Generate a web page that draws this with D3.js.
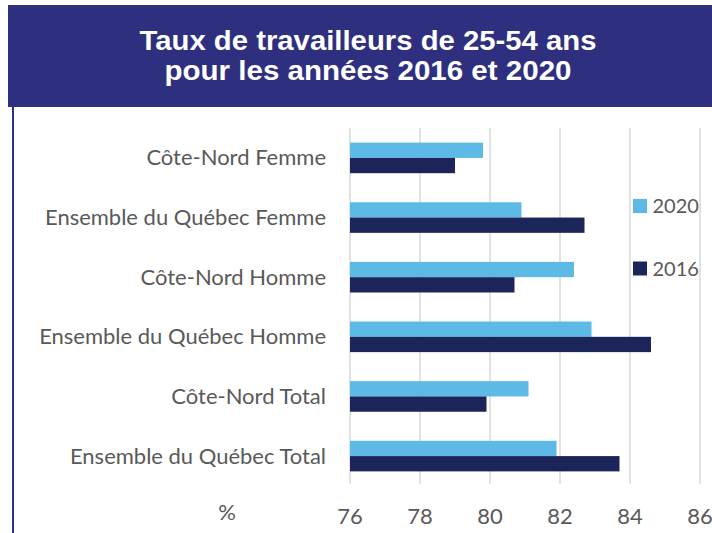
<!DOCTYPE html>
<html><head><meta charset="utf-8">
<script src="https://cdn.jsdelivr.net/npm/d3@7"></script>
<style>
html,body{margin:0;padding:0;background:#fff;}
svg{display:block;}
</style></head>
<body>
<svg id="chart" width="712" height="533"></svg>
<script>
const titleLines = ["Taux de travailleurs de 25-54 ans", "pour les années 2016 et 2020"];
const categories = ["Côte-Nord Femme", "Ensemble du Québec Femme", "Côte-Nord Homme", "Ensemble du Québec Homme", "Côte-Nord Total", "Ensemble du Québec Total"];
const seriesNames = ["2020", "2016"];
const values2020 = [79.8, 80.9, 82.4, 82.9, 81.1, 81.9];
const values2016 = [79.0, 82.7, 80.7, 84.6, 79.9, 83.7];
const xTicks = [76, 78, 80, 82, 84, 86];
const axisUnit = "%";

const colors = {"2020": "#5dbae6", "2016": "#1c2559"};
const band = "#2e2f7f";
const textGray = "#595959";
const labelFont = "Lato, 'Open Sans', sans-serif";

const svg = d3.select("#chart");

// title band
svg.append("rect").attr("x", 8).attr("y", 5).attr("width", 712 - 8).attr("height", 102).attr("fill", band);
// left border of the plot frame
svg.append("rect").attr("x", 12).attr("y", 107).attr("width", 2).attr("height", 533 - 107).attr("fill", band);

const titleWidths = [457, 407];
titleLines.forEach((t, i) => {
  svg.append("text")
    .attr("x", 368).attr("y", 49.5 + i * 30)
    .attr("text-anchor", "middle")
    .attr("fill", "#fff")
    .attr("font-family", "'Liberation Sans', Arial, sans-serif")
    .attr("font-weight", "bold")
    .attr("font-size", 28)
    .attr("textLength", titleWidths[i])
    .attr("lengthAdjust", "spacingAndGlyphs")
    .text(t);
});

const x = d3.scaleLinear().domain([76, 86]).range([350, 700]);
const y = d3.scaleBand().domain(categories).range([128, 486]).paddingInner(0.487).paddingOuter(0.245);
const ySub = d3.scaleBand().domain(seriesNames).range([0, y.bandwidth()]);

// gridlines
svg.append("g").selectAll("line").data(xTicks).join("line")
  .attr("x1", d => x(d)).attr("x2", d => x(d))
  .attr("y1", 128).attr("y2", 484)
  .attr("stroke", "#d9d9d9").attr("stroke-width", 1.5);

// bars
const series = [{name: "2020", vals: values2020}, {name: "2016", vals: values2016}];
series.forEach(s => {
  svg.append("g").selectAll("rect").data(categories).join("rect")
    .attr("x", x(76))
    .attr("y", (c) => y(c) + ySub(s.name))
    .attr("width", (c, i) => x(s.vals[i]) - x(76))
    .attr("height", ySub.bandwidth())
    .attr("fill", colors[s.name]);
});

// category labels
const catG = svg.append("g");
catG.selectAll("text").data(categories).join("text")
  .attr("x", 326)
  .attr("y", c => y(c) + y.bandwidth() / 2 + 7.5)
  .attr("text-anchor", "end")
  .attr("fill", textGray)
  .attr("font-family", labelFont)
  .attr("font-size", 20)
  .text(c => c);
// fit size so the longest label matches the reference width
const longest = catG.selectAll("text").nodes().reduce((m, n) => Math.max(m, n.getComputedTextLength()), 0);
const fitSize = 20 * 287 / longest;
catG.selectAll("text").attr("font-size", fitSize);

// x tick labels
svg.append("g").selectAll("text").data(xTicks).join("text")
  .attr("x", d => x(d)).attr("y", 524)
  .attr("text-anchor", "middle")
  .attr("fill", textGray)
  .attr("font-family", labelFont)
  .attr("font-size", 22)
  .text(d => d);

svg.append("text").attr("x", 227).attr("y", 519.5)
  .attr("text-anchor", "middle").attr("fill", textGray)
  .attr("font-family", labelFont).attr("font-size", 22).text(axisUnit);

// legend
const leg = svg.append("g");
seriesNames.forEach((n, i) => {
  const yy = 199 + i * 62.5;
  leg.append("rect").attr("x", 633).attr("y", yy).attr("width", 14).attr("height", 14).attr("fill", colors[n]);
  leg.append("text").attr("x", 652.5).attr("y", yy + 14.3)
    .attr("fill", textGray).attr("font-family", labelFont).attr("font-size", 20).text(n);
});
</script>
</body></html>
